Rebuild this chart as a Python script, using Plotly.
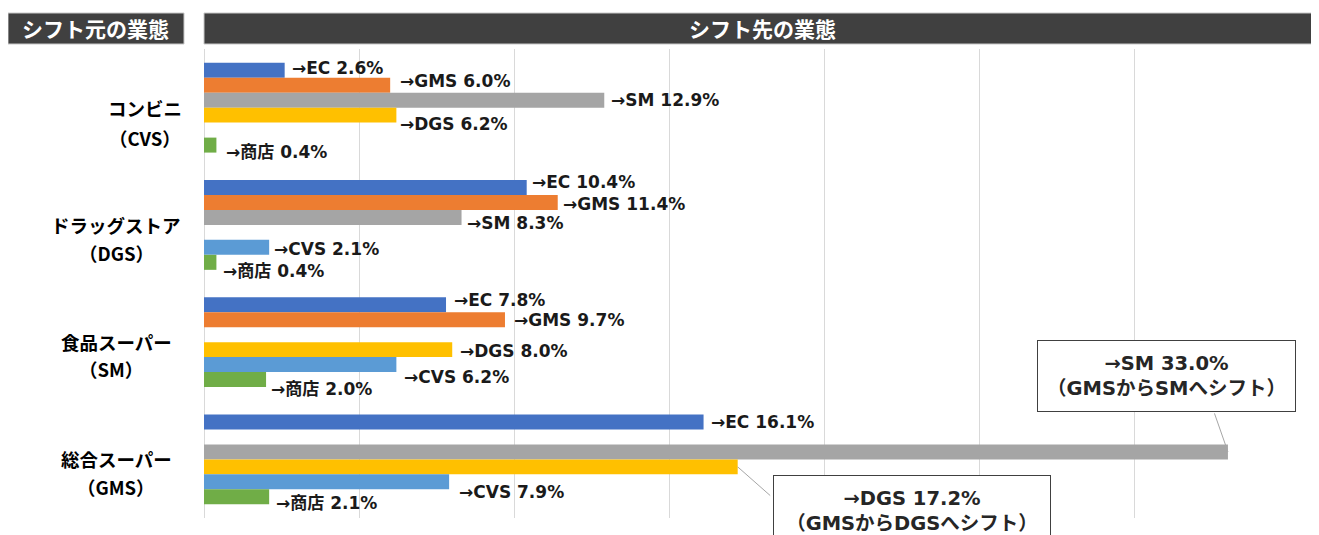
import plotly.graph_objects as go

# ---------------- data ----------------
cat_ids = ["CVS", "DGS", "SM", "GMS"]
cat_names = ["コンビニ", "ドラッグストア", "食品スーパー", "総合スーパー"]
cat_codes = ["（CVS）", "（DGS）", "（SM）", "（GMS）"]

series_names = ["EC", "GMS", "SM", "DGS", "CVS", "商店"]
ec_vals = [2.6, 10.4, 7.8, 16.1]
gms_vals = [6.0, 11.4, 9.7, None]
sm_vals = [12.9, 8.3, None, 33.0]
dgs_vals = [6.2, None, 8.0, 17.2]
cvs_vals = [None, 2.1, 6.2, 7.9]
shop_vals = [0.4, 0.4, 2.0, 2.1]

header_left = "シフト元の業態"
header_right = "シフト先の業態"
callout_sm = "→SM 33.0%<br>（GMSからSMへシフト）"
callout_dgs = "→DGS 17.2%<br>（GMSからDGSへシフト）"

# ---------------- styles ----------------
colors = ["#4472C4", "#ED7D31", "#A5A5A5", "#FFC000", "#5B9BD5", "#70AD47"]
# label offsets (dx right, dy down) in px, per series per category
label_dx = [[7, 5, 8, 7], [10, 5, 9, 0], [7, 5, 0, 0], [4, 0, 8, 0], [0, 5, 8, 10], [10, 7, 5, 7]]
label_dy = [[-2, -5, -4.5, 0], [-4, 1.5, 0.5, 0], [0, 6, 0, 0], [8.5, 0, 1, 0], [0, 1.5, 12, 10.5], [6.5, 9, 9.5, 6]]
# category label centres (page px) and second-line offsets
cat_line1_x = [145, 116, 116, 116]
cat_line2_x = [144.5, 116, 111, 116]
cat_line2_dy = [30, 28, 27, 28]

all_vals = [ec_vals, gms_vals, sm_vals, dgs_vals, cvs_vals, shop_vals]

OFF = 8  # page body margin
W, H = 1319 - OFF, 535 - OFF
# plot area in page pixels: x 204..1290, y 49..518
ML, MT = 204 - OFF, 49 - OFF
MR = W - (1290 - OFF)
MB = H - (518 - OFF)
PW = W - ML - MR
PH = H - MT - MB
BARGAP = 0.233
n = len(series_names)


def px_x(p):
    # page pixel -> paper x
    return (p - OFF - ML) / PW


def px_y(p):
    # page pixel -> paper y
    return (H - MB - (p - OFF)) / PH


def slot_pos(k, i):
    gw = 1 - BARGAP
    return k - gw / 2 + (i + 0.5) * gw / n


label_font = dict(family="DejaVu Sans, Noto Sans CJK JP", size=17, color="#1a1a1a")

fig = go.Figure()
for i, (name, vals) in enumerate(zip(series_names, all_vals)):
    fig.add_trace(go.Bar(
        y=cat_ids, x=vals, orientation="h", name=name,
        marker=dict(color=colors[i], line=dict(width=0)),
        showlegend=False, hoverinfo="skip",
    ))

annotations = []
for i, (name, vals) in enumerate(zip(series_names, all_vals)):
    for k, v in enumerate(vals):
        if v is None:
            continue
        if cat_ids[k] == "GMS" and name in ("SM", "DGS"):
            continue
        annotations.append(dict(
            x=v, y=slot_pos(k, i), xref="x", yref="y",
            text=f"<b>→{name} {v:.1f}%</b>", showarrow=False,
            xanchor="left", yanchor="middle",
            xshift=label_dx[i][k], yshift=-label_dy[i][k],
            borderpad=0, borderwidth=0, font=label_font,
        ))

# callouts for GMS -> SM and GMS -> DGS
k_gms = cat_ids.index("GMS")
i_sm = series_names.index("SM")
i_dgs = series_names.index("DGS")
callout_font = dict(family="DejaVu Sans, Noto Sans CJK JP", size=19.5, color="#262626")

annotations.append(dict(
    x=sm_vals[k_gms], y=slot_pos(k_gms, i_sm), xref="x", yref="y", text="",
    showarrow=True, arrowhead=0, arrowwidth=1, arrowcolor="#A6A6A6",
    ax=-14, ay=-40, axref="pixel", ayref="pixel",
))
annotations.append(dict(
    x=sm_vals[k_gms], y=slot_pos(k_gms, i_sm), xref="x", yref="y",
    text=f"<b>{callout_sm}</b>", showarrow=False,
    xanchor="center", yanchor="middle", xshift=-61.5, yshift=75.5,
    width=255, height=68, bgcolor="white", bordercolor="#404040",
    borderwidth=1, borderpad=1, font=callout_font, align="center",
))
annotations.append(dict(
    x=dgs_vals[k_gms], y=slot_pos(k_gms, i_dgs), xref="x", yref="y", text="",
    showarrow=True, arrowhead=0, arrowwidth=1, arrowcolor="#A6A6A6",
    ax=34, ay=30, axref="pixel", ayref="pixel",
))
annotations.append(dict(
    x=dgs_vals[k_gms], y=slot_pos(k_gms, i_dgs), xref="x", yref="y",
    text=f"<b>{callout_dgs}</b>", showarrow=False,
    xanchor="center", yanchor="middle", xshift=174, yshift=-44.5,
    width=274, height=68, bgcolor="white", bordercolor="#404040",
    borderwidth=1, borderpad=1, font=callout_font, align="center",
))

# category labels
cat_font = dict(family="Noto Sans CJK JP", size=18.5, color="#000000")
for k, cid in enumerate(cat_ids):
    annotations.append(dict(
        x=px_x(cat_line1_x[k]), xref="paper", y=cid, yref="y", text=f"<b>{cat_names[k]}</b>",
        showarrow=False, xanchor="center", yanchor="middle", font=cat_font,
    ))
    annotations.append(dict(
        x=px_x(cat_line2_x[k]), xref="paper", y=cid, yref="y", text=f"<b>{cat_codes[k]}</b>",
        showarrow=False, xanchor="center", yanchor="middle", yshift=-cat_line2_dy[k],
        font=cat_font,
    ))

# headers
head_font = dict(family="Noto Sans CJK JP", size=21, color="#FFFFFF")
annotations.append(dict(
    x=px_x(95.5), y=px_y(28.5), xref="paper", yref="paper", text=f"<b>{header_left}</b>",
    showarrow=False, xanchor="center", yanchor="middle", font=head_font,
))
annotations.append(dict(
    x=px_x(762), y=px_y(28.5), xref="paper", yref="paper", text=f"<b>{header_right}</b>",
    showarrow=False, xanchor="center", yanchor="middle", font=head_font,
))

shapes = [
    dict(type="rect", xref="paper", yref="paper", x0=px_x(8), x1=px_x(184), y0=px_y(44), y1=px_y(13),
         fillcolor="#404040", line=dict(color="#C8C8C8", width=1), layer="above"),
    dict(type="rect", xref="paper", yref="paper", x0=px_x(204), x1=px_x(1322), y0=px_y(44), y1=px_y(13),
         fillcolor="#404040", line=dict(color="#C8C8C8", width=1), layer="above"),
]

fig.update_layout(
    width=W, height=H,
    margin=dict(l=ML, r=MR, t=MT, b=MB, pad=0),
    paper_bgcolor="white", plot_bgcolor="white",
    barmode="group", bargap=BARGAP, bargroupgap=0,
    showlegend=False,
    xaxis=dict(range=[0, 35], autorange=False, dtick=5, tick0=0, showticklabels=False,
               showgrid=True, gridcolor="#D9D9D9", gridwidth=1, zeroline=True,
               zerolinecolor="#D9D9D9", zerolinewidth=1, showline=False, fixedrange=True),
    yaxis=dict(type="category", categoryorder="array", categoryarray=cat_ids,
               range=[len(cat_ids) - 0.5, -0.5], autorange=False,
               showticklabels=False, showgrid=False,
               zeroline=False, showline=False, fixedrange=True),
    annotations=annotations,
    shapes=shapes,
)

fig.write_html("out.html")
